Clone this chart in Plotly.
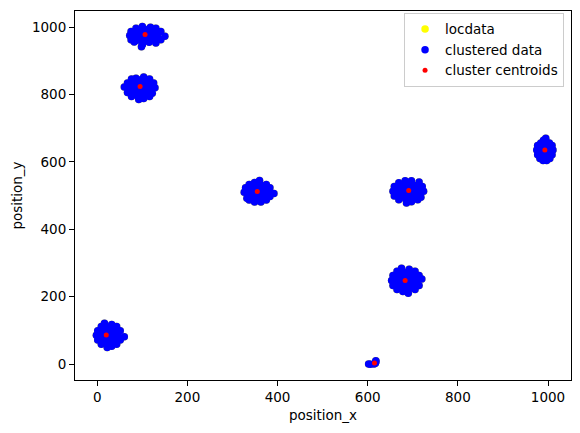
import plotly.graph_objects as go

# ---- data ----
cluster_a_x = [150, 141, 130, 118, 100, 86, 75, 72, 75, 82, 100, 98, 130, 141,
               134, 127, 115, 101, 89, 82, 82, 89, 101, 115, 127, 134,
               123, 115, 101, 93, 101, 115, 108]
cluster_a_y = [973, 987, 997, 1000, 1002, 997, 987, 975, 963, 956, 948, 942, 953, 963,
               980, 989, 995, 995, 989, 980, 970, 961, 955, 955, 961, 970,
               975, 985, 985, 975, 965, 965, 975]

cluster_b_x = [128, 125, 116, 103, 86, 76, 67, 60, 67, 76, 92, 103, 116, 122,
               119, 113, 102, 90, 79, 73, 73, 79, 90, 102, 113, 119,
               109, 102, 90, 83, 90, 102, 96]
cluster_b_y = [820, 834, 846, 852, 848, 846, 834, 822, 806, 794, 785, 788, 794, 804,
               826, 837, 844, 844, 837, 826, 814, 803, 796, 796, 803, 814,
               820, 832, 832, 820, 808, 808, 820]

cluster_c_x = [392, 383, 375, 360, 349, 337, 329, 326, 332, 337, 349, 363, 375, 383,
               378, 372, 362, 350, 340, 334, 334, 340, 350, 362, 372, 378,
               368, 362, 350, 344, 350, 362, 356]
cluster_c_y = [506, 523, 533, 545, 539, 533, 523, 510, 492, 487, 481, 481, 487, 497,
               516, 526, 532, 532, 526, 516, 504, 494, 488, 488, 494, 504,
               510, 521, 521, 510, 499, 499, 510]

cluster_d_x = [724, 721, 714, 697, 683, 669, 659, 656, 659, 669, 686, 697, 711, 718,
               715, 708, 696, 684, 672, 665, 665, 672, 684, 696, 708, 715,
               704, 697, 683, 676, 683, 697, 690]
cluster_d_y = [513, 527, 540, 544, 544, 538, 527, 513, 499, 488, 478, 482, 488, 495,
               519, 530, 536, 536, 530, 519, 507, 496, 490, 490, 496, 507,
               513, 524, 524, 513, 502, 502, 513]

cluster_e_x = [720, 714, 705, 692, 675, 665, 656, 653, 656, 665, 678, 690, 705, 714,
               708, 702, 691, 679, 668, 662, 662, 668, 679, 691, 702, 708,
               698, 691, 679, 672, 679, 691, 685]
cluster_e_y = [252, 263, 275, 281, 284, 275, 263, 248, 233, 221, 215, 210, 221, 233,
               254, 266, 273, 273, 266, 254, 242, 230, 223, 223, 230, 242,
               248, 260, 260, 248, 236, 236, 248]

cluster_f_x = [1011, 1009, 1003, 995, 990, 984, 977, 975, 977, 982, 989, 997, 1004, 1009,
               1006, 1003, 996, 990, 983, 980, 980, 983, 990, 996, 1003, 1006,
               1000, 997, 989, 986, 989, 997, 993]
cluster_f_y = [635, 649, 656, 670, 664, 656, 649, 635, 621, 610, 604, 604, 610, 621,
               641, 652, 658, 658, 652, 641, 629, 618, 612, 612, 618, 629,
               635, 646, 646, 635, 624, 624, 635]

cluster_g_x = [60, 51, 43, 32, 16, 9, 1, -2, 1, 9, 22, 32, 43, 51,
               46, 41, 31, 21, 11, 6, 6, 11, 21, 31, 41, 46,
               37, 32, 20, 15, 20, 32, 26]
cluster_g_y = [81, 99, 111, 117, 121, 111, 99, 85, 71, 59, 49, 53, 59, 71,
               91, 102, 109, 109, 102, 91, 79, 68, 61, 61, 68, 79,
               85, 97, 97, 85, 73, 73, 85]

cluster_h_x = [602, 606, 614, 617, 618, 618]
cluster_h_y = [0, -1, 0, 2, 7, 10]

centroid_x = [106, 95, 355, 691, 683, 993, 20, 615]
centroid_y = [978, 824, 512, 515, 248, 635, 86, 3]

x_ticks = [0, 200, 400, 600, 800, 1000]
y_ticks = [0, 200, 400, 600, 800, 1000]

all_x = (cluster_a_x + cluster_b_x + cluster_c_x + cluster_d_x +
         cluster_e_x + cluster_f_x + cluster_g_x + cluster_h_x)
all_y = (cluster_a_y + cluster_b_y + cluster_c_y + cluster_d_y +
         cluster_e_y + cluster_f_y + cluster_g_y + cluster_h_y)

FONT = "DejaVu Sans"

fig = go.Figure()
fig.add_trace(go.Scatter(x=all_x, y=all_y, mode="markers", name="locdata",
                         marker=dict(color="yellow", size=7.5, line=dict(width=0))))
fig.add_trace(go.Scatter(x=all_x, y=all_y, mode="markers", name="clustered data",
                         marker=dict(color="blue", size=7.5, line=dict(width=0))))
fig.add_trace(go.Scatter(x=centroid_x, y=centroid_y, mode="markers", name="cluster centroids",
                         marker=dict(color="red", size=5, line=dict(width=0))))

axis_common = dict(showgrid=False, zeroline=False, showline=True, mirror=True,
                   linecolor="black", linewidth=1, ticks="outside", ticklen=5,
                   tickwidth=1, tickcolor="black",
                   tickfont=dict(family=FONT, size=13.5, color="black"))

fig.update_xaxes(range=[-49.4, 1051], tickvals=x_ticks,
                 title=dict(text="position_x", font=dict(family=FONT, size=13.5, color="black"), standoff=6),
                 **axis_common)
fig.update_yaxes(range=[-47.5, 1048], tickvals=y_ticks,
                 title=dict(text="position_y", font=dict(family=FONT, size=13.5, color="black"), standoff=6),
                 **axis_common)

fig.update_layout(
    width=580, height=433,
    margin=dict(l=75, r=9, t=11, b=53),
    paper_bgcolor="white", plot_bgcolor="white",
    font=dict(family=FONT, size=13.5, color="black"),
    legend=dict(x=0.986, xanchor="right", y=0.995, yanchor="top",
                bgcolor="rgba(255,255,255,0.8)", bordercolor="#cccccc", borderwidth=1,
                font=dict(family=FONT, size=13.5, color="black"),
                itemsizing="trace"),
)

fig.write_html("out.html")
